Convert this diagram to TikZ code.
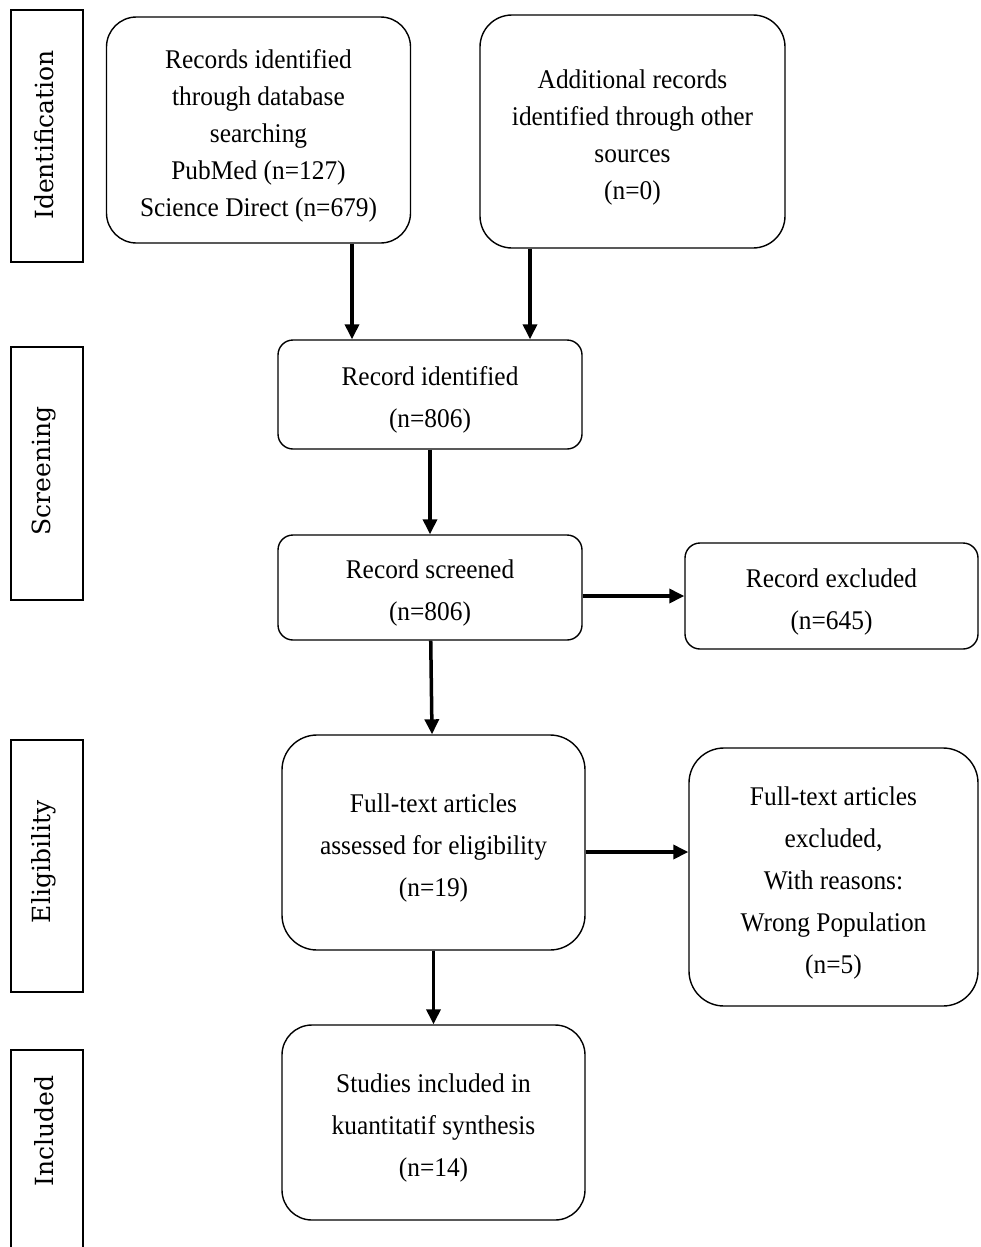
\documentclass[tikz,border=0pt]{standalone}
\usepackage{fontspec}
\setmainfont[FakeStretch=0.94]{Liberation Serif}
\newfontfamily\phasefont{DejaVu Serif}
\usetikzlibrary{arrows.meta}
\newcommand{\boxgap}{\rule{0pt}{30pt}}
\begin{document}
\begin{tikzpicture}[x=1pt,y=-1pt,
	flowbox/.style={draw, line width=1.4pt, align=center, inner sep=0pt,
		font=\fontsize{27}{42}\selectfont},
	phasebox/.style={draw, line width=1.4pt, minimum width=72pt, inner sep=0pt},
	phaselabel/.style={rotate=90, font=\phasefont\fontsize{25}{30}\selectfont},
	arr/.style={line width=3.5pt, -{Triangle[length=15pt,width=14pt]}}]
	\useasboundingbox (0,0) rectangle (980,1247);
	\node (idbox) [phasebox, minimum height=252pt] at (47,136) {};
	\node (idtext) [phaselabel] at (44,135) {Identification};
	\node (scrbox) [phasebox, minimum height=253pt] at (47,473.5) {};
	\node (scrtext) [phaselabel] at (44,471) {Screening};
	\node (eligbox) [phasebox, minimum height=252pt] at (47,866) {};
	\node (eligtext) [phaselabel] at (44,862) {Eligibility};
	\node (inclbox) [phasebox, minimum height=212pt] at (47,1156) {};
	\node (incltext) [phaselabel] at (44,1131) {Included};
	\node (recdb) [flowbox, rounded corners=30pt, minimum width=304pt, minimum height=226pt,
		font=\fontsize{27}{37}\selectfont] at (258.5,130)
		{\boxgap Records identified\\through database\\searching\\PubMed (n=127)\\Science Direct (n=679)};
	\node (recother) [flowbox, rounded corners=32pt, minimum width=305pt, minimum height=233pt,
		font=\fontsize{27}{37}\selectfont] at (632.5,131.5)
		{\boxgap Additional records\\identified through other\\sources\\(n=0)};
	\node (recid) [flowbox, rounded corners=15pt, minimum width=304pt, minimum height=109pt]
		at (430,394.5) {\boxgap Record identified\\(n=806)};
	\node (recscr) [flowbox, rounded corners=15pt, minimum width=304pt, minimum height=105pt]
		at (430,587.5) {\boxgap Record screened\\(n=806)};
	\node (recexcl) [flowbox, rounded corners=15pt, minimum width=293pt, minimum height=106pt]
		at (831.5,596) {\boxgap Record excluded\\(n=645)};
	\node (ftassess) [flowbox, rounded corners=35pt, minimum width=303pt, minimum height=215pt]
		at (433.5,842.5) {\boxgap Full-text articles\\assessed for eligibility\\(n=19)};
	\node (ftexcl) [flowbox, rounded corners=35pt, minimum width=289pt, minimum height=258pt]
		at (833.5,877) {\boxgap Full-text articles\\excluded,\\With reasons:\\Wrong Population\\(n=5)};
	\node (incl) [flowbox, rounded corners=30pt, minimum width=303pt, minimum height=195pt]
		at (433.5,1122.5) {\boxgap Studies included in\\kuantitatif synthesis\\(n=14)};
	\draw[arr] ([xshift=93.5pt]recdb.south) -- ([xshift=93.5pt]recdb.south |- recid.north);
	\draw[arr] ([xshift=-102.5pt]recother.south) -- ([xshift=-102.5pt]recother.south |- recid.north);
	\draw[arr] (recid) -- (recscr);
	\draw[arr] (recscr.east |- recexcl.west) -- (recexcl.west);
	\draw[arr] (recscr) -- (ftassess);
	\draw[arr] ([yshift=-9.5pt]ftassess.east) -- ([yshift=-9.5pt]ftassess.east -| ftexcl.west);
	\draw[arr] (ftassess) -- (incl);
\end{tikzpicture}
\end{document}
